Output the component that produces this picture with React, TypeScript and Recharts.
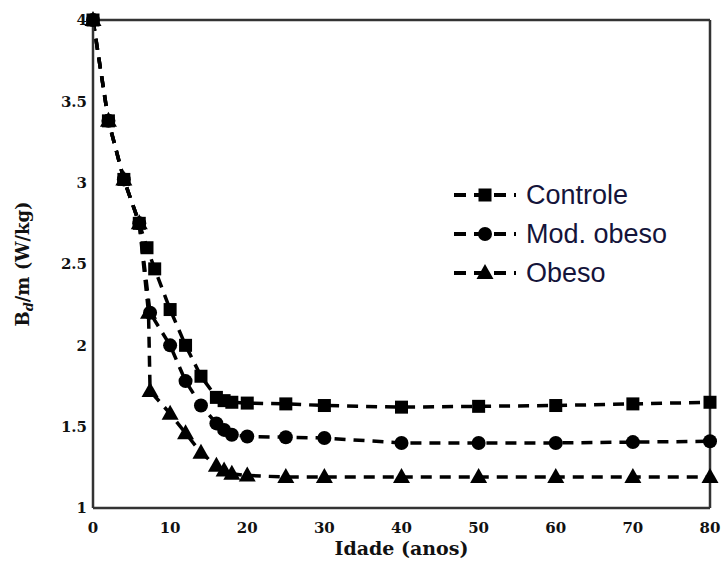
import React from "react";
import { LineChart, Line, XAxis, YAxis, Legend } from "recharts";

// idade (anos) e B_d/m (W/kg)
const controleAge = [0, 2, 4, 6, 7, 8, 10, 12, 14, 16, 17, 18, 20, 25, 30, 40, 50, 60, 70, 80];
const controleValue = [4.0, 3.38, 3.02, 2.75, 2.6, 2.47, 2.22, 2.0, 1.81, 1.68, 1.66, 1.65, 1.645, 1.64, 1.63, 1.62, 1.625, 1.63, 1.64, 1.65];

const modAge = [0, 2, 4, 6, 7.4, 10, 12, 14, 16, 17, 18, 20, 25, 30, 40, 50, 60, 70, 80];
const modValue = [4.0, 3.38, 3.02, 2.75, 2.2, 2.0, 1.78, 1.63, 1.52, 1.48, 1.45, 1.44, 1.435, 1.43, 1.4, 1.4, 1.4, 1.405, 1.41];

const obesoAge = [0, 2, 4, 6, 7.2, 7.4, 10, 12, 14, 16, 17, 18, 20, 25, 30, 40, 50, 60, 70, 80];
const obesoValue = [4.0, 3.38, 3.02, 2.75, 2.2, 1.72, 1.58, 1.46, 1.34, 1.26, 1.23, 1.21, 1.2, 1.19, 1.19, 1.19, 1.19, 1.19, 1.19, 1.19];

const xTicks = [0, 10, 20, 30, 40, 50, 60, 70, 80];
const yTicks = [1, 1.5, 2, 2.5, 3, 3.5, 4];
const yTickLabels = ["1", "1.5", "2", "2.5", "3", "3.5", "4"];

const seriesNames = ["Controle", "Mod. obeso", "Obeso"];

const toPoints = (ages: number[], values: number[]) =>
  ages.map((x, i) => ({ x, y: values[i] }));

const INK = "#000";
const tickFont = { fontFamily: "DejaVu Serif", fontWeight: 700, fontSize: 15, fill: "#111" };

function Marker({ kind, cx, cy }: { kind: string; cx: number; cy: number }) {
  if (kind === "square") {
    return <rect x={cx - 6.5} y={cy - 6.5} width={13} height={13} fill={INK} />;
  }
  if (kind === "circle") {
    return <circle cx={cx} cy={cy} r={7} fill={INK} />;
  }
  return (
    <polygon
      points={`${cx},${cy - 9} ${cx - 8.5},${cy + 6} ${cx + 8.5},${cy + 6}`}
      fill={INK}
    />
  );
}

const makeDot = (kind: string) => (props: any) => {
  const { cx, cy, index } = props;
  if (cx == null || cy == null) return <g key={`${kind}-${index}`} />;
  return (
    <g key={`${kind}-${index}`}>
      <Marker kind={kind} cx={cx} cy={cy} />
    </g>
  );
};

const markerKinds = ["square", "circle", "triangle"];

function renderLegend() {
  return (
    <div style={{ display: "flex", flexDirection: "column", gap: 7 }}>
      {seriesNames.map((name, i) => (
        <div key={name} style={{ display: "flex", alignItems: "center", height: 32 }}>
          <svg width={66} height={30} style={{ marginRight: 8 }}>
            <line x1={2} y1={15} x2={64} y2={15} stroke={INK} strokeWidth={4} strokeDasharray="12 8" />
            <Marker kind={markerKinds[i]} cx={33} cy={15} />
          </svg>
          <span
            style={{
              fontFamily: "Liberation Sans",
              fontSize: 27,
              color: "#14143a",
              lineHeight: "30px",
            }}
          >
            {name}
          </span>
        </div>
      ))}
    </div>
  );
}

function YLabel(props: any) {
  const vb = props.viewBox || {};
  const cx = 22;
  const cy = vb.y + vb.height / 2;
  return (
    <text
      x={cx}
      y={cy}
      transform={`rotate(-90, ${cx}, ${cy})`}
      textAnchor="middle"
      dominantBaseline="central"
      style={{ fontFamily: "DejaVu Serif", fontWeight: 700, fontSize: 18, fill: "#111" }}
    >
      B
      <tspan dy={6} fontSize={13} fontStyle="italic">
        d
      </tspan>
      <tspan dy={-6}>/m (W/kg)</tspan>
    </text>
  );
}

function XLabel(props: any) {
  const vb = props.viewBox || {};
  return (
    <text
      x={vb.x + vb.width / 2}
      y={548}
      textAnchor="middle"
      dominantBaseline="central"
      style={{ fontFamily: "DejaVu Serif", fontWeight: 700, fontSize: 19, fill: "#111" }}
    >
      Idade (anos)
    </text>
  );
}

export default function App() {
  const axisLine = { stroke: "#333", strokeWidth: 2.5 };
  const innerTick = { stroke: "#333", strokeWidth: 1.5 };
  return (
    <div style={{ position: "absolute", left: 0, top: 0, background: "#fff" }}>
      <LineChart
        width={722}
        height={561}
        margin={{ top: 20, right: 12, left: 30, bottom: 23 }}
      >
        <XAxis
          dataKey="x"
          type="number"
          domain={[0, 80]}
          ticks={xTicks}
          allowDuplicatedCategory={false}
          height={30}
          axisLine={axisLine}
          tickLine={false}
          tickSize={0}
          tickMargin={14}
          tick={tickFont}
          label={<XLabel />}
        />
        <XAxis xAxisId="bottomIn" dataKey="x" type="number" domain={[0, 80]} ticks={xTicks} orientation="bottom" mirror axisLine={false} tick={false} tickLine={innerTick} tickSize={6} />
        <XAxis xAxisId="top" dataKey="x" type="number" domain={[0, 80]} ticks={xTicks} orientation="top" mirror axisLine={axisLine} tick={false} tickLine={innerTick} tickSize={6} />
        <YAxis
          type="number"
          domain={[1, 4]}
          ticks={yTicks}
          width={63}
          axisLine={axisLine}
          tickLine={false}
          tickSize={0}
          tickMargin={6}
          tick={tickFont}
          tickFormatter={(v: number) => yTickLabels[yTicks.indexOf(v)] ?? String(v)}
          label={<YLabel />}
        />
        <YAxis yAxisId="leftIn" type="number" domain={[1, 4]} ticks={yTicks} orientation="left" mirror axisLine={false} tick={false} tickLine={innerTick} tickSize={6} />
        <YAxis yAxisId="right" type="number" domain={[1, 4]} ticks={yTicks} orientation="right" mirror axisLine={axisLine} tick={false} tickLine={innerTick} tickSize={6} />
        <Legend
          layout="vertical"
          align="center"
          verticalAlign="middle"
          content={renderLegend}
          wrapperStyle={{ left: 452, top: 179, width: 260 }}
        />
        <Line
          data={toPoints(controleAge, controleValue)}
          dataKey="y"
          name="Controle"
          stroke={INK}
          strokeWidth={3.5}
          strokeDasharray="11 8"
          dot={makeDot("square")}
          activeDot={false}
          isAnimationActive={false}
        />
        <Line
          data={toPoints(modAge, modValue)}
          dataKey="y"
          name="Mod. obeso"
          stroke={INK}
          strokeWidth={3.5}
          strokeDasharray="11 8"
          dot={makeDot("circle")}
          activeDot={false}
          isAnimationActive={false}
        />
        <Line
          data={toPoints(obesoAge, obesoValue)}
          dataKey="y"
          name="Obeso"
          stroke={INK}
          strokeWidth={3.5}
          strokeDasharray="11 8"
          dot={makeDot("triangle")}
          activeDot={false}
          isAnimationActive={false}
        />
      </LineChart>
    </div>
  );
}
